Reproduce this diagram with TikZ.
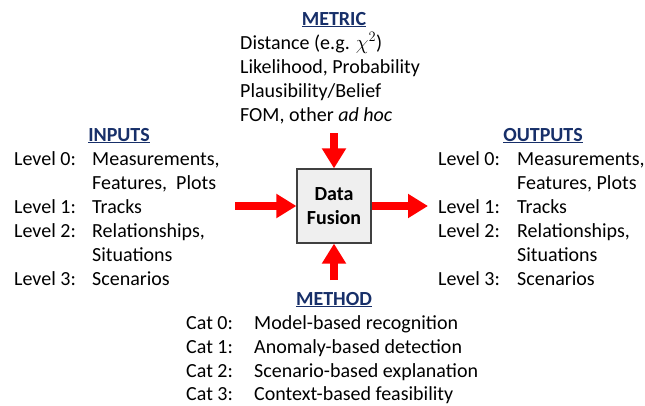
\documentclass[tikz,border=0pt]{standalone}
\usepackage{fontspec}
\setmainfont{Carlito}
\usetikzlibrary{arrows.meta}
\definecolor{headblue}{RGB}{23,47,105}
\definecolor{boxgray}{RGB}{239,239,239}

\begin{document}
\begin{tikzpicture}[x=1pt, y=-1pt,
    txt/.style={anchor=base west, inner sep=0pt, font=\fontsize{20}{24}\selectfont},
    heading/.style={anchor=base, inner sep=0pt, text=headblue,
        font=\fontsize{20}{24}\selectfont\bfseries},
    fusion/.style={rectangle, draw=black!75, line width=1.2pt, fill=boxgray,
        minimum width=74pt, minimum height=74pt, align=center,
        font=\fontsize{20}{24}\selectfont\bfseries},
    flow/.style={draw=red, line width=8pt, -{Triangle[length=20pt, width=23pt]}}
]
    \useasboundingbox (0,0) rectangle (645,405);

    % centre box
    \node[fusion] (df) at (334,206) {Data\\Fusion};

    % metric
    \node[heading] (metric) at (334,25) {\underline{METRIC}};
    \node[txt] (m0) at (240,49) {Distance (e.g. $\chi^2$)};
    \node[txt] (m1) at (240,73) {Likelihood, Probability};
    \node[txt] (m2) at (240,97) {Plausibility/Belief};
    \node[txt] (m3) at (240,121) {FOM, other \textit{ad hoc}};

    % inputs
    \node[heading] (inputs) at (119,141) {\underline{INPUTS}};
    \node[txt] (il0) at (14,165) {Level 0:};
    \node[txt] (in0) at (92,165) {Measurements,};
    \node[txt] (in0b) at (92,189) {Features,\ \ Plots};
    \node[txt] (il1) at (14,213) {Level 1:};
    \node[txt] (in1) at (92,213) {Tracks};
    \node[txt] (il2) at (14,237) {Level 2:};
    \node[txt] (in2) at (92,237) {Relationships,};
    \node[txt] (in2b) at (92,261) {Situations};
    \node[txt] (il3) at (14,285) {Level 3:};
    \node[txt] (in3) at (92,285) {Scenarios};

    % outputs
    \node[heading] (outputs) at (543,141) {\underline{OUTPUTS}};
    \node[txt] (ol0) at (438,165) {Level 0:};
    \node[txt] (out0) at (517,165) {Measurements,};
    \node[txt] (out0b) at (517,189) {Features, Plots};
    \node[txt] (ol1) at (438,213) {Level 1:};
    \node[txt] (out1) at (517,213) {Tracks};
    \node[txt] (ol2) at (438,237) {Level 2:};
    \node[txt] (out2) at (517,237) {Relationships,};
    \node[txt] (out2b) at (517,261) {Situations};
    \node[txt] (ol3) at (438,285) {Level 3:};
    \node[txt] (out3) at (517,285) {Scenarios};

    % method
    \node[heading] (method) at (334,305) {\underline{METHOD}};
    \node[txt] (c0) at (186,329) {Cat 0:};
    \node[txt] (k0) at (254,329) {Model-based recognition};
    \node[txt] (c1) at (186,353) {Cat 1:};
    \node[txt] (k1) at (254,353) {Anomaly-based detection};
    \node[txt] (c2) at (186,377) {Cat 2:};
    \node[txt] (k2) at (254,377) {Scenario-based explanation};
    \node[txt] (c3) at (186,400) {Cat 3:};
    \node[txt] (k3) at (254,400) {Context-based feasibility};

    % arrows
    \coordinate (mtail) at (334,133);
    \coordinate (itail) at (235,206);
    \coordinate (ohead) at (428,206);
    \coordinate (ktail) at (334,280);
    \draw[flow] (mtail) -- (df.north);
    \draw[flow] (itail) -- (df.west);
    \draw[flow] (df.east) -- (ohead);
    \draw[flow] (ktail) -- (df.south);
\end{tikzpicture}
\end{document}
